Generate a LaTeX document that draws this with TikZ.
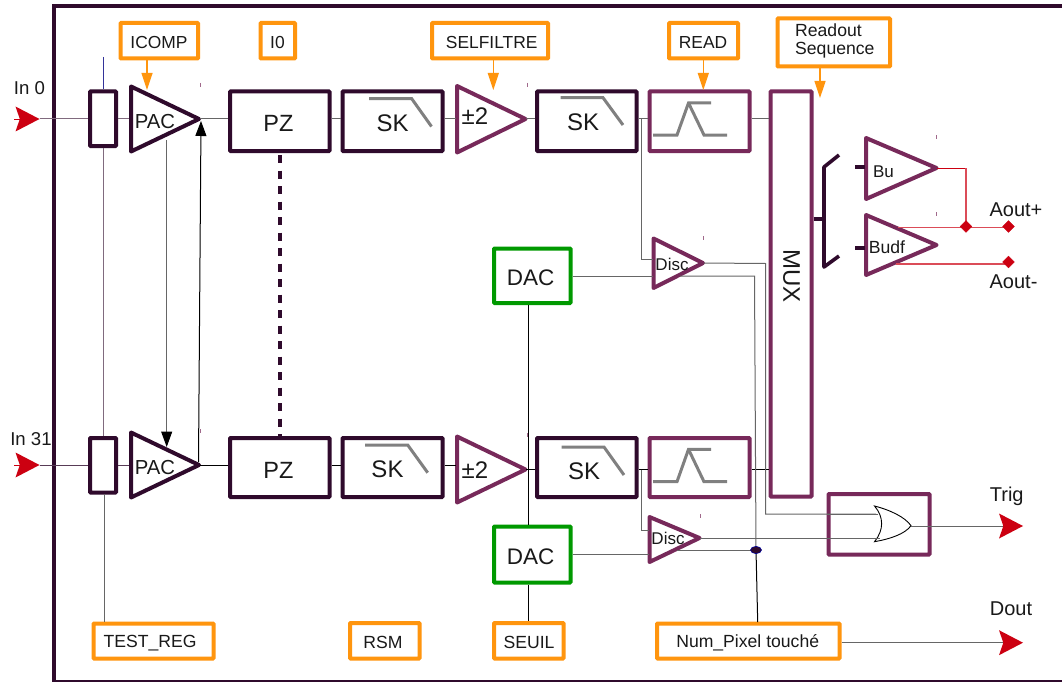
\documentclass[tikz,border=0pt]{standalone}
\usepackage{fontspec}
\setmainfont{Liberation Sans}
\usetikzlibrary{arrows.meta,shapes.geometric}
\definecolor{dark}{HTML}{2F0A2C}
\definecolor{plum}{HTML}{77295A}
\definecolor{orng}{HTML}{FF950E}
\definecolor{grn}{HTML}{009900}
\definecolor{rd}{HTML}{CC0011}
\definecolor{wiregray}{HTML}{666666}
\definecolor{icongray}{HTML}{808080}
\definecolor{wirepl}{HTML}{806A7E}
\tikzset{
  boxbase/.style={draw,fill=white,rectangle,rounded corners=0.8pt,inner sep=0pt,line width=4pt},
  darkbox/.style={boxbase,draw=dark},
  plumbox/.style={boxbase,draw=plum},
  dacbox/.style={boxbase,draw=grn},
  ctlbox/.style={boxbase,draw=orng},
  txt/.style={inner sep=0pt,text=black!90,yshift=-0.7pt},
  wire/.style={draw=wiregray,line width=1pt},
  bwire/.style={draw=black,line width=1pt},
  plwire/.style={draw=wirepl,line width=1pt},
  redwire/.style={draw=rd!70!white,line width=1.2pt},
  icon/.style={draw=icongray,line width=3pt},
  ctlarrow/.style={draw=orng,line width=1.2pt,-{Triangle[length=17pt,width=11pt]}},
  bigarrow/.style={draw=wiregray,line width=1pt,-{Stealth[length=24pt,width=25pt,inset=4.3pt,color=rd,fill=rd,line width=0pt]}},
  inarrow/.style={draw=rd,line width=0.5pt,-{Stealth[length=24pt,width=25pt,inset=4.3pt,color=rd,fill=rd,line width=0pt]}},
  trimark/.style={draw=plum!70!white,line width=1pt},
  reddot/.style={fill=rd,draw=rd,diamond,inner sep=0pt,minimum size=12pt},
}
\newcommand{\bx}[6]{% style, name, x1, y1, x2, y2
  \pgfmathsetmacro\bw{#5-#3-3}\pgfmathsetmacro\bh{#6-#4-3}
  \node[#1,minimum width=\bw pt,minimum height=\bh pt] (#2) at ({(#3+#5)/2},{(#4+#6)/2}) {};}
\newcommand{\tri}[7]{% colour, name, xleft, ytop, ybot, xtip, ytip
  \draw[#1,line width=4pt,line join=round,fill=white] (#3+1,#4+2) -- (#3+1,#5-2) -- (#6-2.5,#7) -- cycle;
  \coordinate (#2-e) at (#6-2,#7);}
\begin{document}
\begin{tikzpicture}[x=1pt,y=-1pt]
\useasboundingbox (0,0) rectangle (1062,682);
\fill[white] (0,0) rectangle (1062,682);
% frame
\draw[dark,line width=3.6pt] (1062,6) -- (54,6) -- (54,682);
\draw[dark,line width=1.6pt] (54,681) -- (1062,681);
% rows
\coordinate (r1) at (0,119);
\coordinate (r2) at (0,465);
\coordinate (r3) at (0,469.5);
% boxes, row 1
\bx{darkbox}{sw1}{88.5}{90}{117.5}{147.5}
\bx{darkbox}{pz1}{228.5}{90}{331}{152.5}
\bx{darkbox}{sk1}{341}{90}{444}{152.5}
\bx{darkbox}{sk2}{535.5}{90}{638}{152.5}
\bx{plumbox}{fl1}{648}{90}{751}{152.5}
\bx{plumbox}{mux}{769}{90}{813}{498}
% boxes, row 2
\bx{darkbox}{sw2}{88.5}{436.5}{117.5}{494}
\bx{darkbox}{pz2}{228.5}{436.5}{331}{498.5}
\bx{darkbox}{sk3}{341}{436.5}{444}{498.5}
\bx{darkbox}{sk4}{535.5}{436.5}{638}{498.5}
\bx{plumbox}{fl2}{648}{436.5}{751}{498.5}
% dac
\bx{dacbox}{dac1}{492.5}{247}{572}{304.5}
\bx{dacbox}{dac2}{492.5}{525}{572}{584}
% or box
\bx{plumbox}{orb}{827}{492.5}{931}{556}
% control boxes
\bx{ctlbox}{icomp}{119}{21.5}{199.5}{60}
\bx{ctlbox}{izero}{259}{21.5}{296.5}{60}
\bx{ctlbox}{selfil}{430.5}{21.5}{549.5}{60}
\bx{ctlbox}{readb}{667.5}{21.5}{739.5}{60}
\bx{ctlbox}{rdseq}{776}{17}{891.5}{68}
\bx{ctlbox}{testreg}{92}{622}{215}{660}
\bx{ctlbox}{rsm}{348.5}{621.5}{421}{660}
\bx{ctlbox}{seuil}{492.5}{621.5}{565}{660}
\bx{ctlbox}{numpix}{655.5}{622}{841}{660}
% free ends
\coordinate (in0) at (39.5,119);
\coordinate (in31) at (39.5,465);
\coordinate (in0b) at (14,119);
\coordinate (in31b) at (14,465);
\coordinate (swtop) at (103.5,57);
\coordinate (trigend) at (1023,526);
\coordinate (doutend) at (1023,642.7);
% wires under triangles
\draw[plwire] (in0) -- (sw1.west |- r1);
\draw[dark!80!white,line width=1pt] (in31) -- (sw2.west |- r2);
\draw[plwire] (sw1.east |- r1) -- (130,119);
\draw[dark!80!white,line width=1pt] (sw2.east |- r2) -- (130,465);
\draw[draw=blue!50!black!80,line width=1pt] (swtop) -- (sw1.north -| swtop);
\draw[plwire] (sw1.south -| swtop) -- (sw2.north -| swtop);
\draw[wire] (104.5,494) -- (104.5,622);
% triangles
\tri{dark}{pac1}{130}{84.5}{153.5}{201.5}{119}
\tri{dark}{pac2}{130}{430.5}{499.5}{201.5}{465}
\tri{plum}{dbl1}{456}{84}{154.5}{528}{119}
\tri{plum}{dbl2}{456}{434.5}{504.5}{528}{469.5}
\tri{plum}{dsc1}{652.5}{236.5}{290}{705.5}{263}
\tri{plum}{dsc2}{648.5}{515}{564}{702}{538}
\tri{plum}{bu}{865}{136}{201}{939}{168}
\tri{plum}{budf}{865}{213}{277}{939}{245}
% row wires
\draw[wire] (pac1-e) -- (pz1.west |- r1);
\draw[wire] (pz1.east |- r1) -- (sk1.west |- r1);
\draw[wire] (sk1.east |- r1) -- (456,119);
\draw[wire] (dbl1-e) -- (sk2.west |- r1);
\draw[wire] (sk2.east |- r1) -- (fl1.west |- r1);
\draw[wire] (fl1.east |- r1) -- (mux.west |- r1);
\draw[bwire] (pac2-e) -- (pz2.west |- r2);
\draw[bwire] (pz2.east |- r2) -- (sk3.west |- r2);
\draw[bwire] (sk3.east |- r2) -- (456,465);
\draw[bwire] (dbl2-e) -- (sk4.west |- r3);
\draw[bwire] (sk4.east |- r3) -- (fl2.west |- r3);
\draw[bwire] (fl2.east |- r3) -- (mux.west |- r3);
% feedback
\draw[draw=wiregray,line width=1pt,-{Triangle[length=15.5pt,width=11pt,color=black,fill=black]}] (166.7,140) -- (166.7,447);
\draw[draw=black,line width=1pt,-{Triangle[length=15pt,width=11pt,color=black,fill=black]}] (198.5,462) -- (201,121);
% dashed link
\draw[dark,line width=4pt,dash pattern=on 8pt off 7.5pt] (pz1.south -| 279.7,0) ++(0,2) -- (pz2.north -| 279.7,0);
% DAC wires
\draw[bwire] (dac1.south -| 528.3,0) -- (dac2.north -| 528.3,0);
\draw[bwire] (dac2.south -| 528.3,0) -- (seuil.north -| 528.3,0);
\draw[wire] (dac1.east |- 0,276) -- (653,276);
\draw[wire] (dac2.east |- 0,554) -- (649,554);
% tap to disc
\draw[wire] (641.3,119) -- (641.3,259.5) -- (653,259.5);
\draw[wire] (641.3,469.5) -- (641.3,530) -- (649,530);
% disc outputs
\draw[wire] (dsc1-e) -- (765.5,263.5) -- (765.5,514) -- (876,514);
\draw[wire] (680,276) -- (754.5,276) -- (756,550);
\draw[wire] (dsc2-e) -- (878,538);
\draw[wire] (677,550) -- (756,550);
\draw[bwire] (756,550) -- (757.7,622);
\draw[draw=blue!60!black,fill=dark,line width=0.6pt] (756,550) ellipse (5.5pt and 3.6pt);
% OR gate
\draw[black,fill=white,line width=0.9pt] (874.5,506) .. controls (890,510) and (905,517) .. (911,525.7) .. controls (905,534) and (890,539) .. (874.5,541.7) .. controls (884,530) and (884,517) .. (874.5,506) -- cycle;
\draw[wire] (orb.west |- 0,514) -- (878,514);
\draw[wire] (orb.west |- 0,538) -- (880,538);
\draw[bigarrow] (911,526) -- (trigend);
\draw[bigarrow] (numpix.east |- doutend) -- (doutend);
% input arrows
\draw[inarrow] (in0b) -- (in0);
\draw[inarrow] (in31b) -- (in31);
% control arrows
\draw[ctlarrow] (icomp.south -| 147,0) -- (147,90);
\draw[ctlarrow] (selfil.south -| 493.3,0) -- (493.3,90);
\draw[ctlarrow] (readb.south -| 703.3,0) -- (703.3,90);
\draw[ctlarrow] (rdseq.south -| 820,0) -- (820,98);
% bus bracket
\draw[dark,line width=3.6pt,line join=round] (839,155) -- (824,167) -- (824,267) -- (839,256);
\draw[dark,line width=3.6pt] (mux.east |- 0,219) -- (824,219);
\draw[dark,line width=3.6pt] (855,167) -- (865,167);
\draw[dark,line width=3.6pt] (855,248) -- (865,248);
% red outputs
\draw[draw=rd,line width=1pt] (bu-e) -- (966,168);
\draw[redwire] (966,168) -- (966,227);
\draw[redwire] (898,227.7) -- (1008,227.7);
\draw[redwire] (896,264) -- (1008,264);
\node[reddot] (n1) at (966,226.5) {};
\node[reddot] (n2) at (1008.5,226.5) {};
\node[reddot] (n3) at (1008.5,262) {};
% small marks
\foreach \mx/\my in {200.5/85,200.5/431,527/85,527/435,703.5/238,700/516,936.5/137,936.5/214}
  \draw[trimark] (\mx,\my-2) -- (\mx,\my+2);
% filter icons
\draw[icon] (369,98.7) -- (411.7,98.7) -- (431.5,126.5);
\draw[icon] (560.7,97.7) -- (603,97.7) -- (623,125);
\draw[icon] (365,445) -- (407.7,445) -- (427.7,472.7);
\draw[icon] (561.7,447) -- (604,447) -- (624,475);
\draw[icon] (653,135) -- (677,135) -- (688.5,103) -- (711,103);
\draw[icon] (688.5,103) -- (704,135) -- (727,135);
\draw[icon] (653,481.7) -- (677,481.7) -- (688.5,449.3) -- (711,449.3);
\draw[icon] (688.5,449.3) -- (704,481.7) -- (727,481.7);
% text
\newcommand{\fs}[1]{\fontsize{#1}{#1}\selectfont}
\node[txt,font=\fs{18.6}] (tin0) at (29.5,87.5) {In 0};
\node[txt,font=\fs{18.6}] (tin31) at (31,438) {In 31};
\node[txt,font=\fs{20.3}] (tp1) at (155,121) {PAC};
\node[txt,font=\fs{20.3}] (tp2) at (155,467) {PAC};
\node[txt,font=\fs{23.5}] (tz1) at (278.5,123) {PZ};
\node[txt,font=\fs{23.5}] (tz2) at (278.5,469.7) {PZ};
\node[txt,font=\fs{24}] (ts1) at (392.7,122.5) {SK};
\node[txt,font=\fs{24}] (ts2) at (583,121.5) {SK};
\node[txt,font=\fs{24}] (ts3) at (387.5,469) {SK};
\node[txt,font=\fs{24}] (ts4) at (584,470.7) {SK};
\node[txt,font=\fs{24}] (td1) at (475,115) {±2};
\node[txt,font=\fs{24}] (td2) at (475,469.3) {±2};
\node[txt,font=\fs{22.5}] (ta1) at (530.7,277.5) {DAC};
\node[txt,font=\fs{22.5}] (ta2) at (530.7,556) {DAC};
\node[txt,font=\fs{17}] (tc1) at (672,263.3) {Disc};
\node[txt,font=\fs{17}] (tc2) at (668,537.7) {Disc};
\node[txt,font=\fs{17}] (tb1) at (883.5,170.7) {Bu};
\node[txt,font=\fs{17.6}] (tb2) at (887,247) {Budf};
\node[txt,font=\fs{24},rotate=-90] (tm) at (791.5,275) {MUX};
\node[txt,font=\fs{20}] (ao1) at (1016,209) {Aout+};
\node[txt,font=\fs{20}] (ao2) at (1013.5,281.5) {Aout-};
\node[txt,font=\fs{20}] (tt) at (1006.7,496) {Trig};
\node[txt,font=\fs{20}] (tdo) at (1011,607.7) {Dout};
\node[txt,font=\fs{17.4}] (t1) at (159,42) {ICOMP};
\node[txt,font=\fs{17.4}] (t2) at (277.5,42) {I0};
\node[txt,font=\fs{17.4}] (t3) at (491.7,42) {SELFILTRE};
\node[txt,font=\fs{17.4}] (t4) at (703,42) {READ};
\node[txt,font=\fs{17.6},align=left,anchor=west] (t5) at (795,40.5) {\fontsize{17.6}{21}\selectfont Readout\\Sequence};
\node[txt,font=\fs{17.6}] (t6) at (150,642) {TEST\_REG};
\node[txt,font=\fs{17.6}] (t7) at (383,642) {RSM};
\node[txt,font=\fs{17.6}] (t8) at (529,642) {SEUIL};
\node[txt,font=\fs{17.6}] (t9) at (747.7,642) {Num\_Pixel touché};
\end{tikzpicture}
\end{document}
